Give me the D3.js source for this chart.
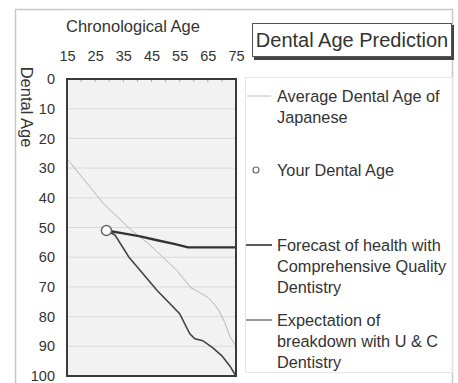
<!DOCTYPE html>
<html><head><meta charset="utf-8">
<script src="https://cdn.jsdelivr.net/npm/d3@7"></script>
<style>
html,body{margin:0;padding:0;background:#fff;}
svg{display:block;font-family:"Liberation Sans",Arial,sans-serif;}
</style></head>
<body>
<svg id="c" width="458" height="383"></svg>
<script>
const xTicks = [15, 25, 35, 45, 55, 65, 75];
const xMinorTicks = [20, 25, 30, 35, 40, 45, 50, 55, 60, 65, 70];
const yTicks = [0, 10, 20, 30, 40, 50, 60, 70, 80, 90, 100];
const averageAge = [15, 16, 22, 28, 33, 38, 44, 49, 54, 59, 61, 65, 67, 69, 71, 73, 75];
const averageDental = [27, 28, 35, 42, 46.5, 51, 55.5, 60, 64.5, 70.3, 71.3, 73.5, 75.5, 78, 82, 87, 90];
const yourAge = [29];
const yourDental = [51];
const forecastAge = [29, 35, 41, 47, 53, 58, 75];
const forecastDental = [51, 52, 53, 54.3, 55.5, 56.7, 56.7];
const breakdownAge = [29, 32, 37, 41, 47, 55, 58.6, 60.4, 63.2, 66.8, 70, 72.8, 75];
const breakdownDental = [51, 52.5, 60, 64.5, 71.2, 79, 85.8, 87.5, 88.1, 90.5, 93.2, 96.6, 100];
const legendLabels = [
  ["Average Dental Age of", "Japanese"],
  ["Your Dental Age"],
  ["Forecast of health with", "Comprehensive Quality", "Dentistry"],
  ["Expectation of", "breakdown with U & C", "Dentistry"]
];

const svg = d3.select("#c");
const x = d3.scaleLinear().domain([15, 75]).range([67, 236]);
const y = d3.scaleLinear().domain([0, 100]).range([79, 376]);

// outer frame
svg.append("rect").attr("x", 15.5).attr("y", 9.5).attr("width", 437).attr("height", 400)
  .attr("fill", "none").attr("stroke", "#c8c8c8").attr("stroke-width", 1.5);

// plot background
svg.append("rect").attr("x", x(15)).attr("y", y(0)).attr("width", x(75) - x(15)).attr("height", y(100) - y(0))
  .attr("fill", "#f2f2f2");

// gridlines
svg.append("g").selectAll("line").data(yTicks.slice(1, -1)).join("line")
  .attr("x1", x(15)).attr("x2", x(75)).attr("y1", d => y(d)).attr("y2", d => y(d))
  .attr("stroke", "#dadada").attr("stroke-width", 1);

// minor ticks on top
svg.append("g").selectAll("line").data(xMinorTicks).join("line")
  .attr("x1", d => x(d)).attr("x2", d => x(d)).attr("y1", y(0)).attr("y2", y(0) + 3)
  .attr("stroke", "#aaa").attr("stroke-width", 1);

// x axis (top) labels
const xAxis = d3.axisTop(x).tickValues(xTicks).tickSize(0).tickPadding(0);
const gx = svg.append("g").attr("transform", "translate(0,61)").call(xAxis);
gx.select(".domain").remove();
gx.selectAll("text").attr("font-size", "14.5px").attr("fill", "#333")
  .attr("font-family", "Liberation Sans, Arial, sans-serif").attr("dy", 0);

// y axis labels
const yAxis = d3.axisLeft(y).tickValues(yTicks).tickSize(0).tickPadding(0);
const gy = svg.append("g").attr("transform", "translate(55,0)").call(yAxis);
gy.select(".domain").remove();
gy.selectAll("text").attr("font-size", "14.5px").attr("fill", "#333")
  .attr("font-family", "Liberation Sans, Arial, sans-serif");

// axis titles
svg.append("text").attr("x", 133).attr("y", 32).attr("text-anchor", "middle")
  .attr("font-size", "16.5px").attr("fill", "#333").text("Chronological Age");
svg.append("text").attr("transform", "translate(21,107) rotate(90)").attr("text-anchor", "middle")
  .attr("font-size", "16.5px").attr("fill", "#333").text("Dental Age");

const line = d3.line().x(d => x(d[0])).y(d => y(d[1]));

// average line
svg.append("path").datum(d3.zip(averageAge, averageDental)).attr("d", line)
  .attr("fill", "none").attr("stroke", "#b5b5b5").attr("stroke-width", 1);
// breakdown line
svg.append("path").datum(d3.zip(breakdownAge, breakdownDental)).attr("d", line)
  .attr("fill", "none").attr("stroke", "#444").attr("stroke-width", 1.6);
// forecast line
svg.append("path").datum(d3.zip(forecastAge, forecastDental)).attr("d", line)
  .attr("fill", "none").attr("stroke", "#333").attr("stroke-width", 2.4);

// plot frame
svg.append("rect").attr("x", x(15)).attr("y", y(0)).attr("width", x(75) - x(15)).attr("height", y(100) - y(0))
  .attr("fill", "none").attr("stroke", "#3a3a3a").attr("stroke-width", 2);

// your dental age point
svg.append("g").selectAll("circle").data(d3.zip(yourAge, yourDental)).join("circle")
  .attr("cx", d => x(d[0])).attr("cy", d => y(d[1])).attr("r", 5)
  .attr("fill", "#fff").attr("stroke", "#666").attr("stroke-width", 1.5);

// title box
svg.append("rect").attr("x", 254).attr("y", 25).attr("width", 200).attr("height", 35).attr("fill", "#444");
svg.append("rect").attr("x", 252.5).attr("y", 23.5).attr("width", 199).attr("height", 33)
  .attr("fill", "#fff").attr("stroke", "#555").attr("stroke-width", 1);
svg.append("text").attr("x", 352).attr("y", 46.5).attr("text-anchor", "middle")
  .attr("font-size", "20px").attr("fill", "#333").text("Dental Age Prediction");

// legend box
svg.append("rect").attr("x", 245.5).attr("y", 77.5).attr("width", 207).attr("height", 295)
  .attr("fill", "none").attr("stroke", "#e6e6e6").attr("stroke-width", 1);

const legendY = [96, 170, 245, 320];
const lg = svg.append("g");
lg.append("line").attr("x1", 247).attr("x2", 271).attr("y1", legendY[0]).attr("y2", legendY[0])
  .attr("stroke", "#c0c0c0").attr("stroke-width", 1);
lg.append("circle").attr("cx", 256).attr("cy", legendY[1]).attr("r", 3)
  .attr("fill", "#fff").attr("stroke", "#666").attr("stroke-width", 1.2);
lg.append("line").attr("x1", 246).attr("x2", 272).attr("y1", legendY[2]).attr("y2", legendY[2])
  .attr("stroke", "#333").attr("stroke-width", 1.6);
lg.append("line").attr("x1", 246).attr("x2", 272).attr("y1", legendY[3]).attr("y2", legendY[3])
  .attr("stroke", "#555").attr("stroke-width", 1.2);

legendLabels.forEach((lines, i) => {
  lines.forEach((t, j) => {
    lg.append("text").attr("x", 277).attr("y", legendY[i] + 6 + j * 20.8)
      .attr("font-size", "16.3px").attr("fill", "#333").text(t);
  });
});
</script>
</body></html>
